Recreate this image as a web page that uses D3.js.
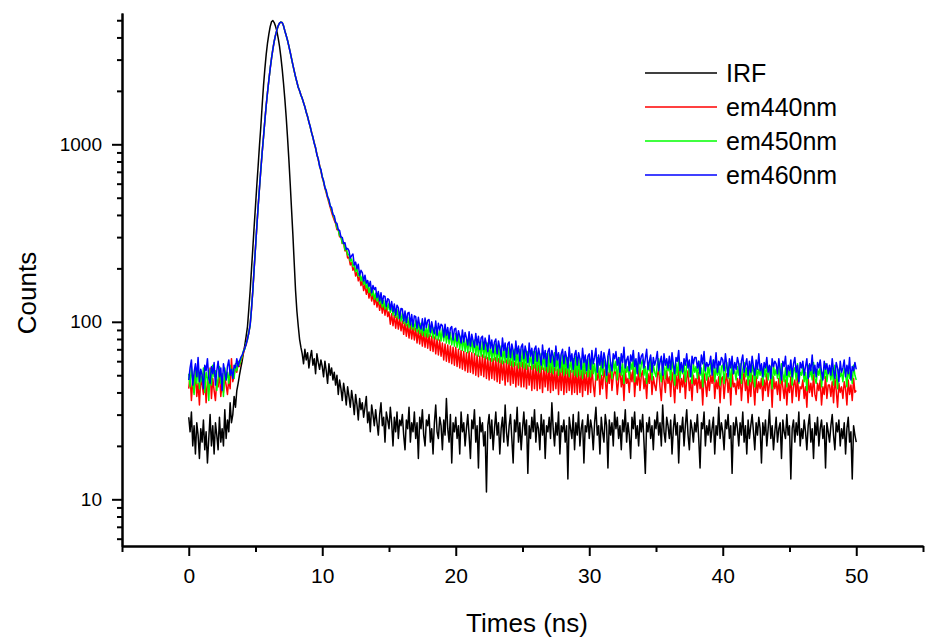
<!DOCTYPE html>
<html lang="en">
<head>
<meta charset="UTF-8">
<title>Time-resolved fluorescence decay</title>
<script src="https://cdn.jsdelivr.net/npm/d3@7/dist/d3.min.js"></script>
<style>
  * { margin: 0; padding: 0; }
  body { background: #fff; font-family: 'Liberation Sans', Arial, sans-serif; }
  svg { display: block; }
</style>
</head>
<body>
<svg id="chart" width="929" height="639"></svg>
<script>
// ============================================================================
// Data (counts per 0.1 ns channel; one row = 1 ns)
// ============================================================================

const timeStep = 0.1;
const times = d3.range(0, 501).map(i => +(i * timeStep).toFixed(1));

const irf = [
  29, 24, 31, 20, 26, 18, 27, 23, 17, 25,
  21, 28, 19, 24, 16, 22, 30, 20, 26, 18,
  27, 23, 19, 29, 21, 25, 20, 32, 22, 28,
  24, 35, 27, 30, 38, 33, 41, 45, 50, 55,
  60, 67, 74, 83, 94, 118, 150, 198, 260, 345,
  450, 590, 760, 990, 1260, 1660, 2140, 2650, 3200, 3720,
  4180, 4600, 4900, 4980, 4850, 4620, 4340, 3960, 3560, 3110,
  2650, 2200, 1790, 1420, 1090, 820, 600, 430, 310, 215,
  150, 115, 95, 80, 72, 66, 58, 70, 61, 67,
  55, 63, 69, 57, 62, 51, 66, 59, 54, 61,
  56, 49, 60, 53, 45, 58, 50, 55, 47, 52,
  44, 50, 39, 47, 42, 36, 45, 40, 34, 43,
  38, 33, 41, 36, 30, 39, 34, 28, 37, 32,
  35, 29, 33, 38, 27, 31, 24, 34, 30, 26,
  32, 27, 23, 30, 35, 26, 29, 21, 31, 28,
  25, 33, 27, 20, 29, 24, 31, 22, 28, 26,
  30, 23, 19, 28, 25, 33, 21, 27, 24, 31,
  22, 27, 17, 29, 25, 32, 23, 20, 28, 26,
  30, 21, 25, 18, 27, 34, 24, 22, 29, 26,
  19, 28, 23, 37, 25, 21, 30, 16, 27, 24,
  29, 22, 26, 18, 31, 24, 27, 20, 25, 30,
  23, 17, 28, 25, 32, 21, 26, 15, 29, 24,
  27, 20, 24, 11, 26, 30, 22, 28, 19, 25,
  31, 23, 27, 18, 25, 29, 21, 34, 24, 20,
  26, 30, 22, 16, 28, 24, 33, 21, 27, 19,
  25, 31, 23, 28, 14, 26, 22, 29, 24, 32,
  21, 27, 25, 19, 30, 23, 28, 17, 26, 24,
  29, 22, 35, 25, 20, 27, 23, 31, 18, 26,
  24, 28, 21, 26, 13, 29, 25, 22, 30, 19,
  27, 23, 31, 20, 25, 28, 16, 26, 24, 30,
  22, 28, 25, 19, 27, 33, 23, 26, 18, 29,
  24, 21, 30, 26, 15, 28, 23, 27, 20, 31,
  25, 29, 22, 26, 19, 28, 24, 32, 21, 27,
  23, 17, 29, 25, 31, 22, 26, 20, 28, 24,
  30, 21, 14, 27, 24, 29, 22, 26, 19, 28,
  25, 31, 23, 27, 20, 34, 24, 21, 29, 26,
  22, 28, 18, 25, 30, 23, 27, 16, 26, 24,
  29, 20, 26, 32, 23, 19, 28, 25, 21, 27,
  24, 30, 22, 15, 27, 25, 31, 20, 26, 23,
  28, 21, 25, 29, 18, 26, 23, 33, 22, 27,
  24, 19, 28, 25, 30, 22, 26, 14, 27, 23,
  29, 25, 20, 27, 23, 31, 21, 26, 18, 28,
  22, 26, 30, 24, 19, 27, 23, 29, 25, 16,
  27, 23, 28, 20, 25, 32, 22, 26, 19, 24,
  29, 21, 25, 27, 17, 28, 24, 22, 30, 23,
  26, 13, 25, 28, 21, 27, 23, 31, 20, 25,
  22, 28, 24, 19, 26, 30, 21, 25, 17, 27,
  23, 29, 20, 25, 28, 22, 26, 15, 27, 24,
  21, 26, 30, 23, 19, 27, 24, 28, 20, 25,
  22, 27, 18, 25, 29, 21, 24, 13, 26, 23,
  21
];

const em440 = [
  42, 50, 36, 47, 40, 53, 38, 45, 34, 49,
  44, 39, 51, 35, 46, 42, 55, 37, 48, 41,
  36, 47, 43, 52, 38, 45, 40, 49, 44, 39,
  48, 42, 62, 46, 50, 55, 52, 58, 56, 60,
  63, 67, 72, 74, 81, 86, 97, 117, 151, 198,
  264, 343, 450, 568, 724, 898, 1103, 1356, 1652, 1957,
  2304, 2666, 3054, 3426, 3804, 4116, 4404, 4645, 4824, 4875,
  4854, 4645, 4354, 4095, 3854, 3566, 3304, 3035, 2805, 2586,
  2405, 2235, 2105, 1995, 1905, 1805, 1725, 1615, 1525, 1425,
  1345, 1245, 1175, 1085, 1025, 945, 885, 815, 765, 705,
  650, 610, 565, 532, 498, 468, 440, 414, 392, 374,
  358, 331, 330, 301, 302, 276, 279, 251, 255, 229,
  231, 209, 216, 195, 203, 181, 191, 170, 180, 160,
  171, 150, 162, 143, 156, 136, 150, 131, 144, 125,
  138, 121, 133, 116, 130, 112, 127, 109, 124, 107,
  114, 97, 111, 95, 109, 92, 107, 91, 105, 89,
  101, 85, 99, 83, 97, 81, 96, 80, 94, 79,
  92, 76, 90, 75, 89, 73, 87, 72, 86, 71,
  85, 69, 83, 68, 82, 66, 80, 65, 79, 64,
  76, 61, 75, 60, 74, 59, 73, 58, 72, 57,
  72, 56, 70, 55, 69, 54, 68, 53, 67, 52,
  68, 52, 67, 51, 66, 50, 65, 49, 64, 50,
  65, 49, 64, 48, 63, 47, 62, 48, 62, 47,
  63, 46, 62, 45, 61, 47, 60, 44, 61, 46,
  61, 44, 60, 45, 59, 43, 58, 44, 59, 43,
  59, 43, 58, 42, 57, 44, 56, 41, 57, 42,
  58, 41, 57, 42, 56, 40, 55, 43, 56, 41,
  57, 40, 56, 41, 55, 42, 54, 39, 55, 41,
  56, 39, 55, 40, 54, 41, 53, 39, 54, 40,
  55, 39, 54, 40, 53, 38, 54, 41, 52, 39,
  53, 40, 56, 44, 38, 51, 47, 55, 39, 50,
  42, 54, 48, 37, 52, 45, 57, 41, 49, 53,
  51, 39, 47, 55, 43, 50, 36, 53, 45, 48,
  40, 52, 46, 56, 38, 49, 44, 54, 41, 50,
  53, 42, 48, 37, 51, 45, 55, 39, 49, 44,
  41, 50, 54, 43, 36, 52, 47, 40, 53, 45,
  49, 38, 52, 45, 35, 50, 42, 54, 40, 48,
  43, 51, 37, 48, 53, 41, 47, 36, 50, 44,
  48, 40, 52, 42, 47, 34, 51, 45, 38, 49,
  41, 50, 45, 53, 37, 47, 42, 49, 35, 48,
  49, 37, 46, 51, 40, 48, 34, 52, 43, 45,
  39, 48, 42, 50, 36, 46, 52, 41, 47, 35,
  47, 38, 50, 44, 34, 49, 40, 46, 42, 48,
  36, 47, 41, 51, 38, 45, 48, 33, 49, 42,
  46, 39, 48, 36, 50, 43, 37, 47, 34, 45,
  40, 49, 35, 44, 47, 38, 50, 36, 43, 42,
  47, 37, 43, 33, 48, 40, 45, 38, 50, 39,
  36, 45, 41, 47, 34, 43, 39, 49, 37, 44,
  44, 38, 46, 35, 48, 41, 33, 45, 40, 43,
  37, 46, 42, 34, 47, 39, 44, 36, 48, 40,
  41
];

const em450 = [
  51, 43, 56, 47, 39, 53, 45, 58, 42, 50,
  46, 55, 40, 52, 48, 36, 54, 44, 57, 49,
  53, 41, 48, 56, 45, 51, 38, 55, 47, 52,
  45, 57, 50, 54, 48, 58, 53, 60, 57, 61,
  64, 69, 70, 76, 79, 88, 95, 120, 149, 202,
  260, 347, 446, 573, 720, 903, 1097, 1364, 1648, 1963,
  2296, 2674, 3046, 3434, 3796, 4124, 4396, 4655, 4816, 4885,
  4846, 4655, 4346, 4105, 3846, 3574, 3296, 3045, 2795, 2594,
  2395, 2245, 2095, 2005, 1895, 1815, 1715, 1625, 1515, 1435,
  1335, 1255, 1165, 1095, 1015, 955, 875, 825, 755, 715,
  660, 615, 575, 540, 510, 478, 452, 428, 405, 384,
  366, 338, 331, 305, 303, 277, 281, 254, 261, 238,
  241, 220, 226, 205, 213, 192, 200, 181, 189, 170,
  181, 162, 172, 155, 164, 146, 157, 140, 151, 134,
  145, 131, 140, 126, 136, 121, 132, 118, 129, 117,
  127, 113, 124, 109, 120, 106, 117, 104, 113, 101,
  112, 98, 109, 95, 106, 93, 104, 91, 101, 90,
  102, 88, 100, 86, 98, 84, 96, 83, 94, 82,
  97, 83, 95, 81, 93, 80, 92, 79, 90, 78,
  92, 78, 90, 76, 88, 75, 87, 74, 85, 73,
  86, 72, 84, 70, 83, 69, 82, 68, 80, 67,
  82, 68, 80, 67, 79, 65, 78, 64, 76, 64,
  78, 63, 77, 62, 76, 61, 75, 60, 74, 61,
  75, 60, 74, 59, 73, 58, 72, 59, 71, 58,
  72, 57, 71, 56, 70, 57, 69, 55, 70, 56,
  70, 55, 69, 54, 68, 56, 67, 54, 68, 55,
  68, 53, 67, 52, 66, 54, 65, 53, 66, 52,
  66, 52, 65, 51, 67, 53, 64, 50, 65, 52,
  65, 50, 64, 51, 63, 49, 64, 52, 62, 50,
  64, 49, 63, 50, 62, 48, 63, 51, 61, 49,
  62, 49, 65, 51, 58, 47, 63, 54, 48, 60,
  50, 61, 55, 46, 64, 52, 59, 48, 62, 53,
  60, 47, 57, 63, 50, 58, 45, 61, 52, 56,
  48, 59, 54, 62, 46, 57, 51, 60, 49, 58,
  61, 50, 56, 45, 59, 53, 63, 47, 57, 52,
  49, 58, 62, 51, 46, 60, 55, 48, 59, 53,
  57, 47, 61, 54, 44, 58, 50, 62, 48, 56,
  51, 59, 46, 57, 60, 49, 55, 45, 58, 52,
  56, 48, 60, 50, 55, 43, 59, 52, 47, 57,
  49, 58, 53, 61, 46, 55, 50, 57, 44, 56,
  57, 45, 54, 59, 48, 56, 43, 60, 51, 53,
  47, 56, 50, 58, 45, 54, 59, 49, 55, 44,
  55, 46, 57, 52, 43, 58, 48, 54, 50, 56,
  44, 55, 49, 59, 47, 53, 56, 42, 57, 50,
  54, 48, 56, 45, 58, 51, 46, 55, 43, 53,
  49, 57, 44, 53, 55, 47, 58, 45, 52, 50,
  56, 46, 52, 41, 57, 49, 54, 47, 59, 48,
  45, 54, 50, 56, 43, 52, 48, 58, 46, 53,
  53, 47, 55, 44, 57, 50, 42, 54, 49, 52,
  46, 55, 51, 43, 56, 48, 53, 45, 57, 50,
  47
];

const em460 = [
  47, 55, 61, 44, 52, 58, 49, 63, 46, 54,
  50, 42, 57, 53, 62, 48, 45, 56, 51, 59,
  44, 53, 60, 49, 55, 41, 58, 52, 47, 56,
  61, 50, 54, 48, 57, 55, 62, 56, 60, 63,
  65, 68, 71, 75, 80, 87, 96, 118, 150, 200,
  262, 345, 448, 570, 722, 900, 1100, 1360, 1650, 1960,
  2300, 2670, 3050, 3430, 3800, 4120, 4400, 4650, 4820, 4880,
  4850, 4650, 4350, 4100, 3850, 3570, 3300, 3040, 2800, 2590,
  2400, 2250, 2090, 2010, 1890, 1820, 1710, 1630, 1510, 1440,
  1330, 1260, 1160, 1100, 1010, 960, 870, 830, 750, 720,
  655, 625, 570, 550, 505, 490, 448, 440, 402, 396,
  362, 358, 330, 327, 300, 299, 276, 279, 256, 259,
  252, 228, 236, 241, 209, 217, 199, 211, 183, 195,
  189, 170, 183, 165, 171, 158, 169, 146, 160, 152,
  156, 137, 148, 131, 146, 127, 140, 139, 122, 135,
  133, 117, 130, 114, 126, 109, 124, 120, 105, 119,
  118, 101, 115, 99, 112, 113, 96, 110, 94, 108,
  107, 92, 106, 95, 91, 104, 89, 105, 93, 102,
  103, 87, 100, 91, 86, 101, 84, 98, 90, 97,
  95, 82, 97, 84, 93, 80, 92, 94, 79, 91,
  92, 78, 89, 83, 76, 90, 77, 87, 81, 74,
  88, 73, 85, 78, 72, 86, 74, 83, 70, 81,
  83, 70, 81, 75, 68, 84, 71, 79, 67, 77,
  80, 66, 78, 71, 64, 81, 69, 76, 63, 75,
  77, 63, 75, 69, 61, 78, 66, 73, 60, 72,
  75, 62, 73, 67, 59, 76, 64, 71, 58, 70,
  73, 60, 71, 65, 57, 74, 62, 69, 56, 68,
  71, 59, 69, 64, 56, 73, 61, 67, 55, 66,
  70, 58, 68, 63, 55, 72, 60, 66, 54, 65,
  69, 57, 67, 62, 54, 71, 59, 65, 53, 64,
  66, 54, 69, 58, 63, 71, 52, 65, 57, 68,
  55, 67, 61, 50, 64, 70, 58, 53, 66, 62,
  68, 57, 63, 52, 66, 59, 72, 55, 61, 64,
  53, 65, 60, 69, 56, 62, 51, 67, 58, 64,
  66, 55, 62, 70, 54, 60, 65, 52, 63, 57,
  61, 68, 53, 59, 64, 50, 66, 57, 62, 55,
  64, 54, 67, 58, 51, 63, 60, 69, 53, 59,
  52, 62, 57, 66, 55, 61, 49, 64, 58, 63,
  63, 55, 60, 51, 65, 58, 68, 53, 59, 56,
  58, 64, 50, 61, 55, 67, 52, 60, 57, 63,
  61, 53, 66, 57, 49, 62, 55, 64, 51, 59,
  54, 63, 58, 48, 60, 65, 52, 57, 62, 50,
  60, 52, 64, 56, 50, 61, 54, 66, 53, 58,
  49, 59, 55, 63, 52, 57, 48, 62, 56, 60,
  58, 51, 62, 54, 47, 60, 56, 64, 50, 57,
  53, 61, 49, 58, 63, 52, 57, 46, 59, 55,
  60, 50, 56, 62, 48, 58, 53, 65, 51, 57,
  49, 59, 55, 61, 52, 47, 60, 54, 58, 51,
  57, 50, 62, 53, 48, 59, 55, 46, 60, 52,
  55, 61, 49, 57, 51, 63, 47, 56, 53, 59,
  54
];

const seriesNames = ['IRF', 'em440nm', 'em450nm', 'em460nm'];
const seriesValues = [irf, em440, em450, em460];
const seriesColors = ['#000000', '#ff0000', '#00ff00', '#0000ff'];

const xMajorTicks = [0, 10, 20, 30, 40, 50];
const xMinorTicks = [-5, 5, 15, 25, 35, 45, 55];
const yMajorTicks = [10, 100, 1000];
const yMinorTicks = [6, 7, 8, 9, 20, 30, 40, 50, 60, 70, 80, 90,
  200, 300, 400, 500, 600, 700, 800, 900, 2000, 3000, 4000, 5000];

// ============================================================================
// Layout
// ============================================================================

const svg = d3.select('#chart');
const plot = { left: 122, right: 923, top: 13, bottom: 546 };

const x = d3.scaleLinear().domain([-5, 55]).range([plot.left, plot.right]);
const y = d3.scaleLog().domain([5.457, 5492]).range([plot.bottom, plot.top]);

const fontFamily = "'Liberation Sans', Arial, sans-serif";

// Series (IRF first so blue ends on top)
const line = d3.line()
  .x((d, i) => x(times[i]))
  .y(d => y(d));

svg.append('g')
  .selectAll('path')
  .data(seriesValues)
  .join('path')
  .attr('d', d => line(d))
  .attr('fill', 'none')
  .attr('stroke', (d, i) => seriesColors[i])
  .attr('stroke-width', 1.5)
  .attr('stroke-linejoin', 'round');

// Axes
function styleAxis(g, fontSize) {
  g.select('.domain').attr('stroke', '#000').attr('stroke-width', 2);
  g.selectAll('.tick line').attr('stroke', '#000').attr('stroke-width', 2);
  g.selectAll('.tick text')
    .attr('fill', '#000')
    .attr('font-family', fontFamily)
    .attr('font-size', fontSize);
}

svg.append('g')
  .attr('transform', `translate(0,${plot.bottom})`)
  .call(d3.axisBottom(x).tickValues(xMinorTicks).tickSize(6).tickSizeOuter(0).tickFormat(''))
  .call(g => styleAxis(g, 0));

svg.append('g')
  .attr('transform', `translate(0,${plot.bottom})`)
  .call(d3.axisBottom(x).tickValues(xMajorTicks).tickSize(10).tickSizeOuter(0).tickPadding(12).tickFormat(d3.format('d')))
  .call(g => styleAxis(g, 21));

svg.append('g')
  .attr('transform', `translate(${plot.left},0)`)
  .call(d3.axisLeft(y).tickValues(yMinorTicks).tickSize(5).tickSizeOuter(0).tickFormat(''))
  .call(g => styleAxis(g, 0));

svg.append('g')
  .attr('transform', `translate(${plot.left},0)`)
  .call(d3.axisLeft(y).tickValues(yMajorTicks).tickSize(10).tickSizeOuter(0).tickPadding(10).tickFormat(d3.format('d')))
  .call(g => styleAxis(g, 19));

// Axis titles
svg.append('text')
  .attr('x', 527)
  .attr('y', 632)
  .attr('text-anchor', 'middle')
  .attr('font-family', fontFamily)
  .attr('font-size', 26)
  .text('Times (ns)');

svg.append('text')
  .attr('transform', 'translate(36,293) rotate(-90)')
  .attr('text-anchor', 'middle')
  .attr('font-family', fontFamily)
  .attr('font-size', 26)
  .text('Counts');

// Legend
const legend = svg.append('g').attr('transform', 'translate(645,73)');
const legendRow = legend.selectAll('g')
  .data(seriesNames)
  .join('g')
  .attr('transform', (d, i) => `translate(0,${i * 34})`);

legendRow.append('line')
  .attr('x1', 0).attr('x2', 72)
  .attr('stroke', (d, i) => seriesColors[i])
  .attr('stroke-width', 1.5);

legendRow.append('text')
  .attr('x', 81)
  .attr('y', 9)
  .attr('font-family', fontFamily)
  .attr('font-size', 25)
  .text(d => d);
</script>
</body>
</html>
